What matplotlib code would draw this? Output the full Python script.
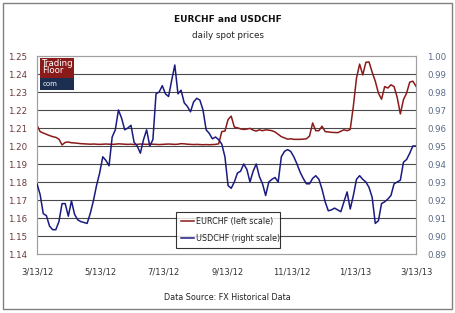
import numpy as np
import pandas as pd
import matplotlib
matplotlib.use("Agg")
import matplotlib.pyplot as plt
from matplotlib.patches import Rectangle

# data (every ~3 days, 3/13/12 -> 3/13/13)
dates = pd.date_range("2012-03-13", "2013-03-13", periods=122)

eurchf = [
    1.2115, 1.2080, 1.2072, 1.2065, 1.2058, 1.2052, 1.2048, 1.2038, 1.2006, 1.2020,
    1.2022, 1.2018, 1.2017, 1.2015, 1.2013, 1.2012, 1.2011, 1.2010, 1.2011, 1.2010,
    1.2009, 1.2010, 1.2011, 1.2010, 1.2009, 1.2010, 1.2012, 1.2011, 1.2010, 1.2009,
    1.2010, 1.2008, 1.2009, 1.2011, 1.2010, 1.2009, 1.2010, 1.2010, 1.2009, 1.2008,
    1.2009, 1.2010, 1.2011, 1.2010, 1.2009, 1.2010, 1.2013, 1.2012, 1.2010, 1.2009,
    1.2008, 1.2009, 1.2008, 1.2007, 1.2008, 1.2007, 1.2008, 1.2009, 1.2012, 1.2080,
    1.2083, 1.2147, 1.2166, 1.2105, 1.2101, 1.2095, 1.2092, 1.2094, 1.2098, 1.2088,
    1.2083, 1.2090, 1.2085, 1.2090, 1.2088, 1.2085, 1.2078, 1.2065, 1.2052, 1.2045,
    1.2038, 1.2040, 1.2037, 1.2037, 1.2037, 1.2038, 1.2040, 1.2055, 1.2128, 1.2085,
    1.2085, 1.2110, 1.2080, 1.2078, 1.2076, 1.2075, 1.2074, 1.2082, 1.2090, 1.2085,
    1.2092, 1.2221, 1.2377, 1.2455, 1.2395, 1.2465, 1.2467, 1.2410, 1.2360, 1.2294,
    1.2260, 1.2330, 1.2322, 1.2340, 1.2330, 1.2270, 1.2178, 1.2258, 1.2294, 1.2355,
    1.2360, 1.2332,
]

usdchf = [
    0.929, 0.923, 0.9124, 0.9113, 0.9055, 0.9035, 0.9035, 0.908, 0.918, 0.918,
    0.911, 0.9195, 0.912, 0.909, 0.908, 0.9075, 0.907, 0.9125, 0.9195, 0.928,
    0.935, 0.944, 0.942, 0.939, 0.955, 0.959, 0.970, 0.9655, 0.959, 0.960,
    0.9615, 0.952, 0.950, 0.946, 0.9535, 0.959, 0.950, 0.9535, 0.979, 0.980,
    0.9835, 0.979, 0.9775, 0.9865, 0.995, 0.979, 0.981, 0.974, 0.972, 0.969,
    0.9745, 0.9765, 0.9755, 0.970, 0.959, 0.957, 0.954, 0.955, 0.9535, 0.951,
    0.944, 0.928, 0.9265, 0.930, 0.935, 0.936, 0.940, 0.937, 0.930, 0.936,
    0.940, 0.933, 0.929, 0.9225, 0.930, 0.9315, 0.9325, 0.930, 0.944, 0.947,
    0.948, 0.947, 0.944, 0.940, 0.9355, 0.932, 0.929, 0.929, 0.932, 0.9335,
    0.9315, 0.926, 0.919, 0.914, 0.9145, 0.9155, 0.9145, 0.9135, 0.919, 0.9245,
    0.915, 0.9225, 0.9315, 0.9335, 0.9315, 0.930, 0.927, 0.9215, 0.907, 0.9085,
    0.918, 0.919, 0.9205, 0.9225, 0.929, 0.930, 0.931, 0.941, 0.9425, 0.946,
    0.950, 0.950,
]

xtick_dates = pd.to_datetime(["2012-03-13", "2012-05-13", "2012-07-13", "2012-09-13",
                              "2012-11-13", "2013-01-13", "2013-03-13"])
xtick_labels = ["3/13/12", "5/13/12", "7/13/12", "9/13/12", "11/13/12", "1/13/13", "3/13/13"]
left_ticks = np.round(np.arange(1.14, 1.2501, 0.01), 2)
right_ticks = np.round(np.arange(0.89, 1.0001, 0.01), 2)

red = "#8b1a1a"
blue = "#1a1a80"

fig = plt.figure(figsize=(4.55, 3.13), dpi=100)
fig.patch.set_facecolor("white")
fig.patches.append(Rectangle((3 / 455, 4 / 313), 449 / 455, 306 / 313, transform=fig.transFigure,
                             fill=False, edgecolor="#808080", linewidth=1.0))

ax = fig.add_axes([37 / 455, 59 / 313, 379 / 455, 198 / 313])
ax2 = ax.twinx()

# grid
for v in left_ticks[1:-1]:
    ax.axhline(v, color="#4a4a4a", linewidth=0.8, zorder=1)

l1, = ax.plot(dates, eurchf, color=red, linewidth=1.1, zorder=3)
l2, = ax2.plot(dates, usdchf, color=blue, linewidth=1.1, zorder=3)

ax.set_xlim(xtick_dates[0], xtick_dates[-1])
ax.set_ylim(1.14, 1.25)
ax2.set_ylim(0.89, 1.00)
ax.set_xticks(xtick_dates)
ax.set_xticklabels(xtick_labels, fontsize=6, color="#333333")
ax.set_yticks(left_ticks)
ax.set_yticklabels(["%.2f" % v for v in left_ticks], fontsize=6.2, color="#6a3a3a")
ax2.set_yticks(right_ticks)
ax2.set_yticklabels(["%.2f" % v for v in right_ticks], fontsize=6.2, color="#5a6a85")
ax.tick_params(axis="x", length=0, pad=10)
ax.tick_params(axis="y", length=0, pad=7)
ax2.tick_params(axis="y", length=0, pad=8)
for a in (ax, ax2):
    for s in a.spines.values():
        s.set_color("#a0a0a0")
        s.set_linewidth(0.8)

leg = ax2.legend([l1, l2], ["EURCHF (left scale)", "USDCHF (right scale)"],
                 loc="lower left", bbox_to_anchor=(0.367, 0.03, 0.274, 0.187),
                 mode="expand", fontsize=5.8, frameon=True, fancybox=False,
                 borderpad=0.6, handlelength=1.6, handletextpad=0.3, labelspacing=1.0,
                 borderaxespad=0)
leg.get_frame().set_edgecolor("black")
leg.get_frame().set_linewidth(0.8)
for t in leg.get_texts():
    t.set_color("#222222")

# logo: red "Trading Floor" block over a dark blue "com" strip
ax2.add_patch(Rectangle((0.008, 0.889), 0.09, 0.101, transform=ax2.transAxes,
                        facecolor="#8b1a1a", edgecolor="none", zorder=5))
ax2.add_patch(Rectangle((0.008, 0.828), 0.09, 0.061, transform=ax2.transAxes,
                        facecolor="#1c2f50", edgecolor="none", zorder=5))
ax2.text(0.014, 0.987, "Trading\nFloor", transform=ax2.transAxes, ha="left", va="top",
         fontsize=6.2, color="white", linespacing=0.8, zorder=6)
ax2.text(0.014, 0.858, "com", transform=ax2.transAxes, ha="left", va="center",
         fontsize=5, color="white", zorder=6)

fig.text(0.5, 1 - 19 / 313, "EURCHF and USDCHF", ha="center", va="center",
         fontsize=6.5, fontweight="bold", color="#111111")
fig.text(0.5, 1 - 35 / 313, "daily spot prices", ha="center", va="center",
         fontsize=6.3, color="#222222")
fig.text(0.5, 1 - 297 / 313, "Data Source: FX Historical Data", ha="center", va="center",
         fontsize=5.8, color="#222222")

fig.savefig("out.png", dpi=100)
